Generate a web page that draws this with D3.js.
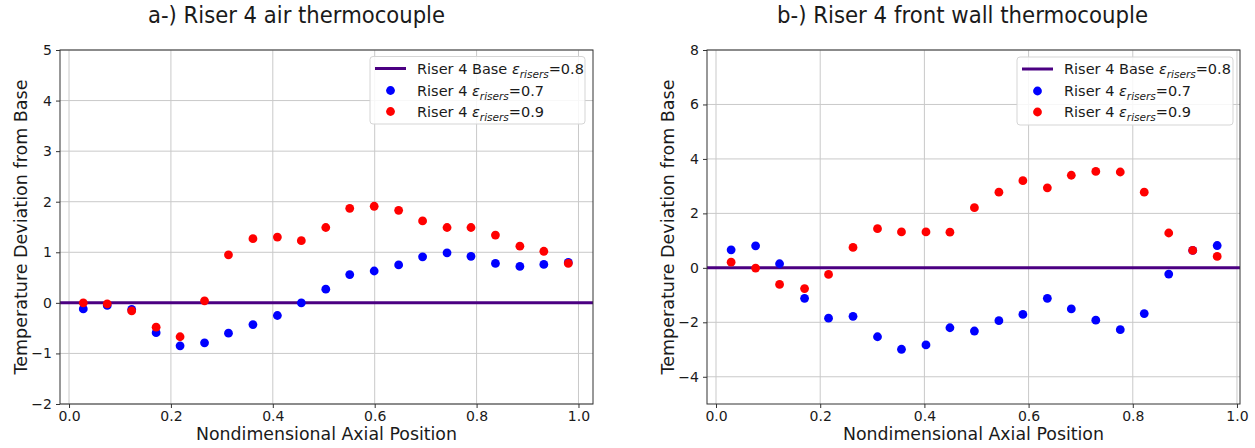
<!DOCTYPE html>
<html><head><meta charset="utf-8">
<script src="https://cdn.jsdelivr.net/npm/d3@7"></script>
<style>
body{margin:0;background:#fff;}
svg{display:block;}
text{font-family:"DejaVu Sans",sans-serif;fill:#1a1a1a;}
</style></head>
<body>
<svg id="chart" width="1255" height="448"></svg>
<script>
// ---- Data ----
const xA = [0.028,0.075,0.123,0.171,0.218,0.266,0.313,0.361,0.409,0.456,0.504,0.551,0.599,0.647,0.694,0.742,0.789,0.837,0.885,0.932,0.980];
const blueA = [-0.12,-0.05,-0.13,-0.59,-0.85,-0.79,-0.60,-0.43,-0.25,0.00,0.27,0.56,0.63,0.75,0.91,0.99,0.92,0.78,0.72,0.76,0.80];
const redA  = [0.00,-0.02,-0.16,-0.48,-0.67,0.04,0.95,1.27,1.30,1.23,1.49,1.87,1.91,1.83,1.62,1.49,1.49,1.34,1.12,1.02,0.78];

const xB = [0.029,0.076,0.122,0.170,0.216,0.263,0.310,0.356,0.403,0.449,0.496,0.543,0.589,0.636,0.682,0.729,0.776,0.822,0.869,0.915,0.962];
const blueB = [0.66,0.81,0.15,-1.12,-1.85,-1.78,-2.53,-2.99,-2.83,-2.20,-2.32,-1.94,-1.71,-1.12,-1.51,-1.92,-2.27,-1.68,-0.23,0.64,0.82];
const redB  = [0.21,-0.01,-0.61,-0.76,-0.24,0.75,1.44,1.32,1.32,1.31,2.21,2.78,3.20,2.94,3.40,3.54,3.52,2.78,1.28,0.64,0.42];

const baseValue = 0;
const xTicks = [0.0,0.2,0.4,0.6,0.8,1.0];
const yTicksA = [-2,-1,0,1,2,3,4,5];
const yTicksB = [-4,-2,0,2,4,6,8];
const titles = ["a-) Riser 4 air thermocouple","b-) Riser 4 front wall thermocouple"];
const xLabel = "Nondimensional Axial Position";
const yLabel = "Temperature Deviation from Base";
const legendLabels = [["Riser 4 Base ","=0.8"],["Riser 4 ","=0.7"],["Riser 4 ","=0.9"]];

const svg = d3.select("#chart");
const fmtMinus = v => String(v).replace("-", "\u2212");
const R = 4.4;

function panel(cfg){
  const {left,right,top,bottom,xDom,yDom,yTicks,xs,blue,red,title,titleX,titleW,ylabX,xlabW,legend} = cfg;
  const x = d3.scaleLinear().domain(xDom).range([left,right]);
  const y = d3.scaleLinear().domain(yDom).range([bottom,top]);
  const g = svg.append("g");
  // grid
  g.selectAll(".gx").data(xTicks).join("line")
    .attr("x1",d=>x(d)).attr("x2",d=>x(d)).attr("y1",top).attr("y2",bottom)
    .attr("stroke","#c9c9c9").attr("stroke-width",1);
  g.selectAll(".gy").data(yTicks).join("line")
    .attr("x1",left).attr("x2",right).attr("y1",d=>y(d)).attr("y2",d=>y(d))
    .attr("stroke","#c9c9c9").attr("stroke-width",1);
  // axes
  const ax = d3.axisBottom(x).tickValues(xTicks).tickFormat(d3.format(".1f")).tickSize(4).tickPadding(3);
  const ay = d3.axisLeft(y).tickValues(yTicks).tickFormat(fmtMinus).tickSize(4).tickPadding(4);
  const gx = g.append("g").attr("transform",`translate(0,${bottom})`).call(ax);
  const gy = g.append("g").attr("transform",`translate(${left},0)`).call(ay);
  [gx,gy].forEach(a=>{
    a.select(".domain").remove();
    a.selectAll("line").attr("stroke","#333");
    a.selectAll("text").attr("font-size",14).attr("fill","#1a1a1a").attr("font-family","DejaVu Sans");
  });
  // base line
  g.append("line").attr("x1",left).attr("x2",right).attr("y1",y(baseValue)).attr("y2",y(baseValue))
    .attr("stroke","#4b0082").attr("stroke-width",3);
  // points
  g.selectAll(".b").data(xs.map((v,i)=>[v,blue[i]])).join("circle")
    .attr("cx",d=>x(d[0])).attr("cy",d=>y(d[1])).attr("r",R).attr("fill","#0000ff");
  g.selectAll(".r").data(xs.map((v,i)=>[v,red[i]])).join("circle")
    .attr("cx",d=>x(d[0])).attr("cy",d=>y(d[1])).attr("r",R).attr("fill","#ff0000");
  // frame
  g.append("rect").attr("x",left).attr("y",top).attr("width",right-left).attr("height",bottom-top)
    .attr("fill","none").attr("stroke","#333").attr("stroke-width",1);
  // title
  g.append("text").attr("x",titleX).attr("y",23).attr("font-size",23)
    .attr("font-family","Lato, 'Open Sans', sans-serif").attr("fill","#000")
    .attr("textLength",titleW).attr("lengthAdjust","spacingAndGlyphs").text(title);
  // x label
  g.append("text").attr("x",(left+right)/2).attr("y",440).attr("text-anchor","middle").attr("font-size",17)
    .attr("textLength",xlabW).attr("lengthAdjust","spacingAndGlyphs").text(xLabel);
  // y label
  g.append("text").attr("transform",`translate(${ylabX},227) rotate(-90)`).attr("text-anchor","middle")
    .attr("font-size",17).attr("textLength",295).attr("lengthAdjust","spacingAndGlyphs").text(yLabel);
  // legend
  const L = legend;
  g.append("rect").attr("x",L.x).attr("y",L.y).attr("width",L.w).attr("height",L.h).attr("rx",3)
    .attr("fill","#fff").attr("fill-opacity",0.85).attr("stroke","#d5d5d5");
  const rows = [L.y+12, L.y+34, L.y+55];
  g.append("line").attr("x1",L.x+5).attr("x2",L.x+36).attr("y1",rows[0]).attr("y2",rows[0])
    .attr("stroke","#4b0082").attr("stroke-width",3);
  g.append("circle").attr("cx",L.x+20.5).attr("cy",rows[1]).attr("r",R).attr("fill","#0000ff");
  g.append("circle").attr("cx",L.x+20.5).attr("cy",rows[2]).attr("r",R).attr("fill","#ff0000");
  legendLabels.forEach((lab,i)=>{
    const t = g.append("text").attr("x",L.x+47).attr("y",rows[i]+5).attr("font-size",14.5);
    t.append("tspan").text(lab[0]);
    t.append("tspan").attr("font-style","italic").text("\u03b5");
    t.append("tspan").attr("font-style","italic").attr("font-size",10.5).attr("dy",4).text("risers");
    t.append("tspan").attr("dy",-4).text(lab[1]);
  });
}

panel({left:60,right:593,top:50,bottom:404,xDom:[-0.0177,1.0285],yDom:[-2,5],yTicks:yTicksA,
  xs:xA,blue:blueA,red:redA,title:titles[0],titleX:148,titleW:297,ylabX:27,xlabW:261,
  legend:{x:370,y:56.5,w:215,h:67.5}});
panel({left:707,right:1240,top:50,bottom:404,xDom:[-0.0173,1.0058],yDom:[-5,8],yTicks:yTicksB,
  xs:xB,blue:blueB,red:redB,title:titles[1],titleX:777,titleW:371,ylabX:674,xlabW:261,
  legend:{x:1017,y:57,w:216,h:68}});
</script>
</body></html>
